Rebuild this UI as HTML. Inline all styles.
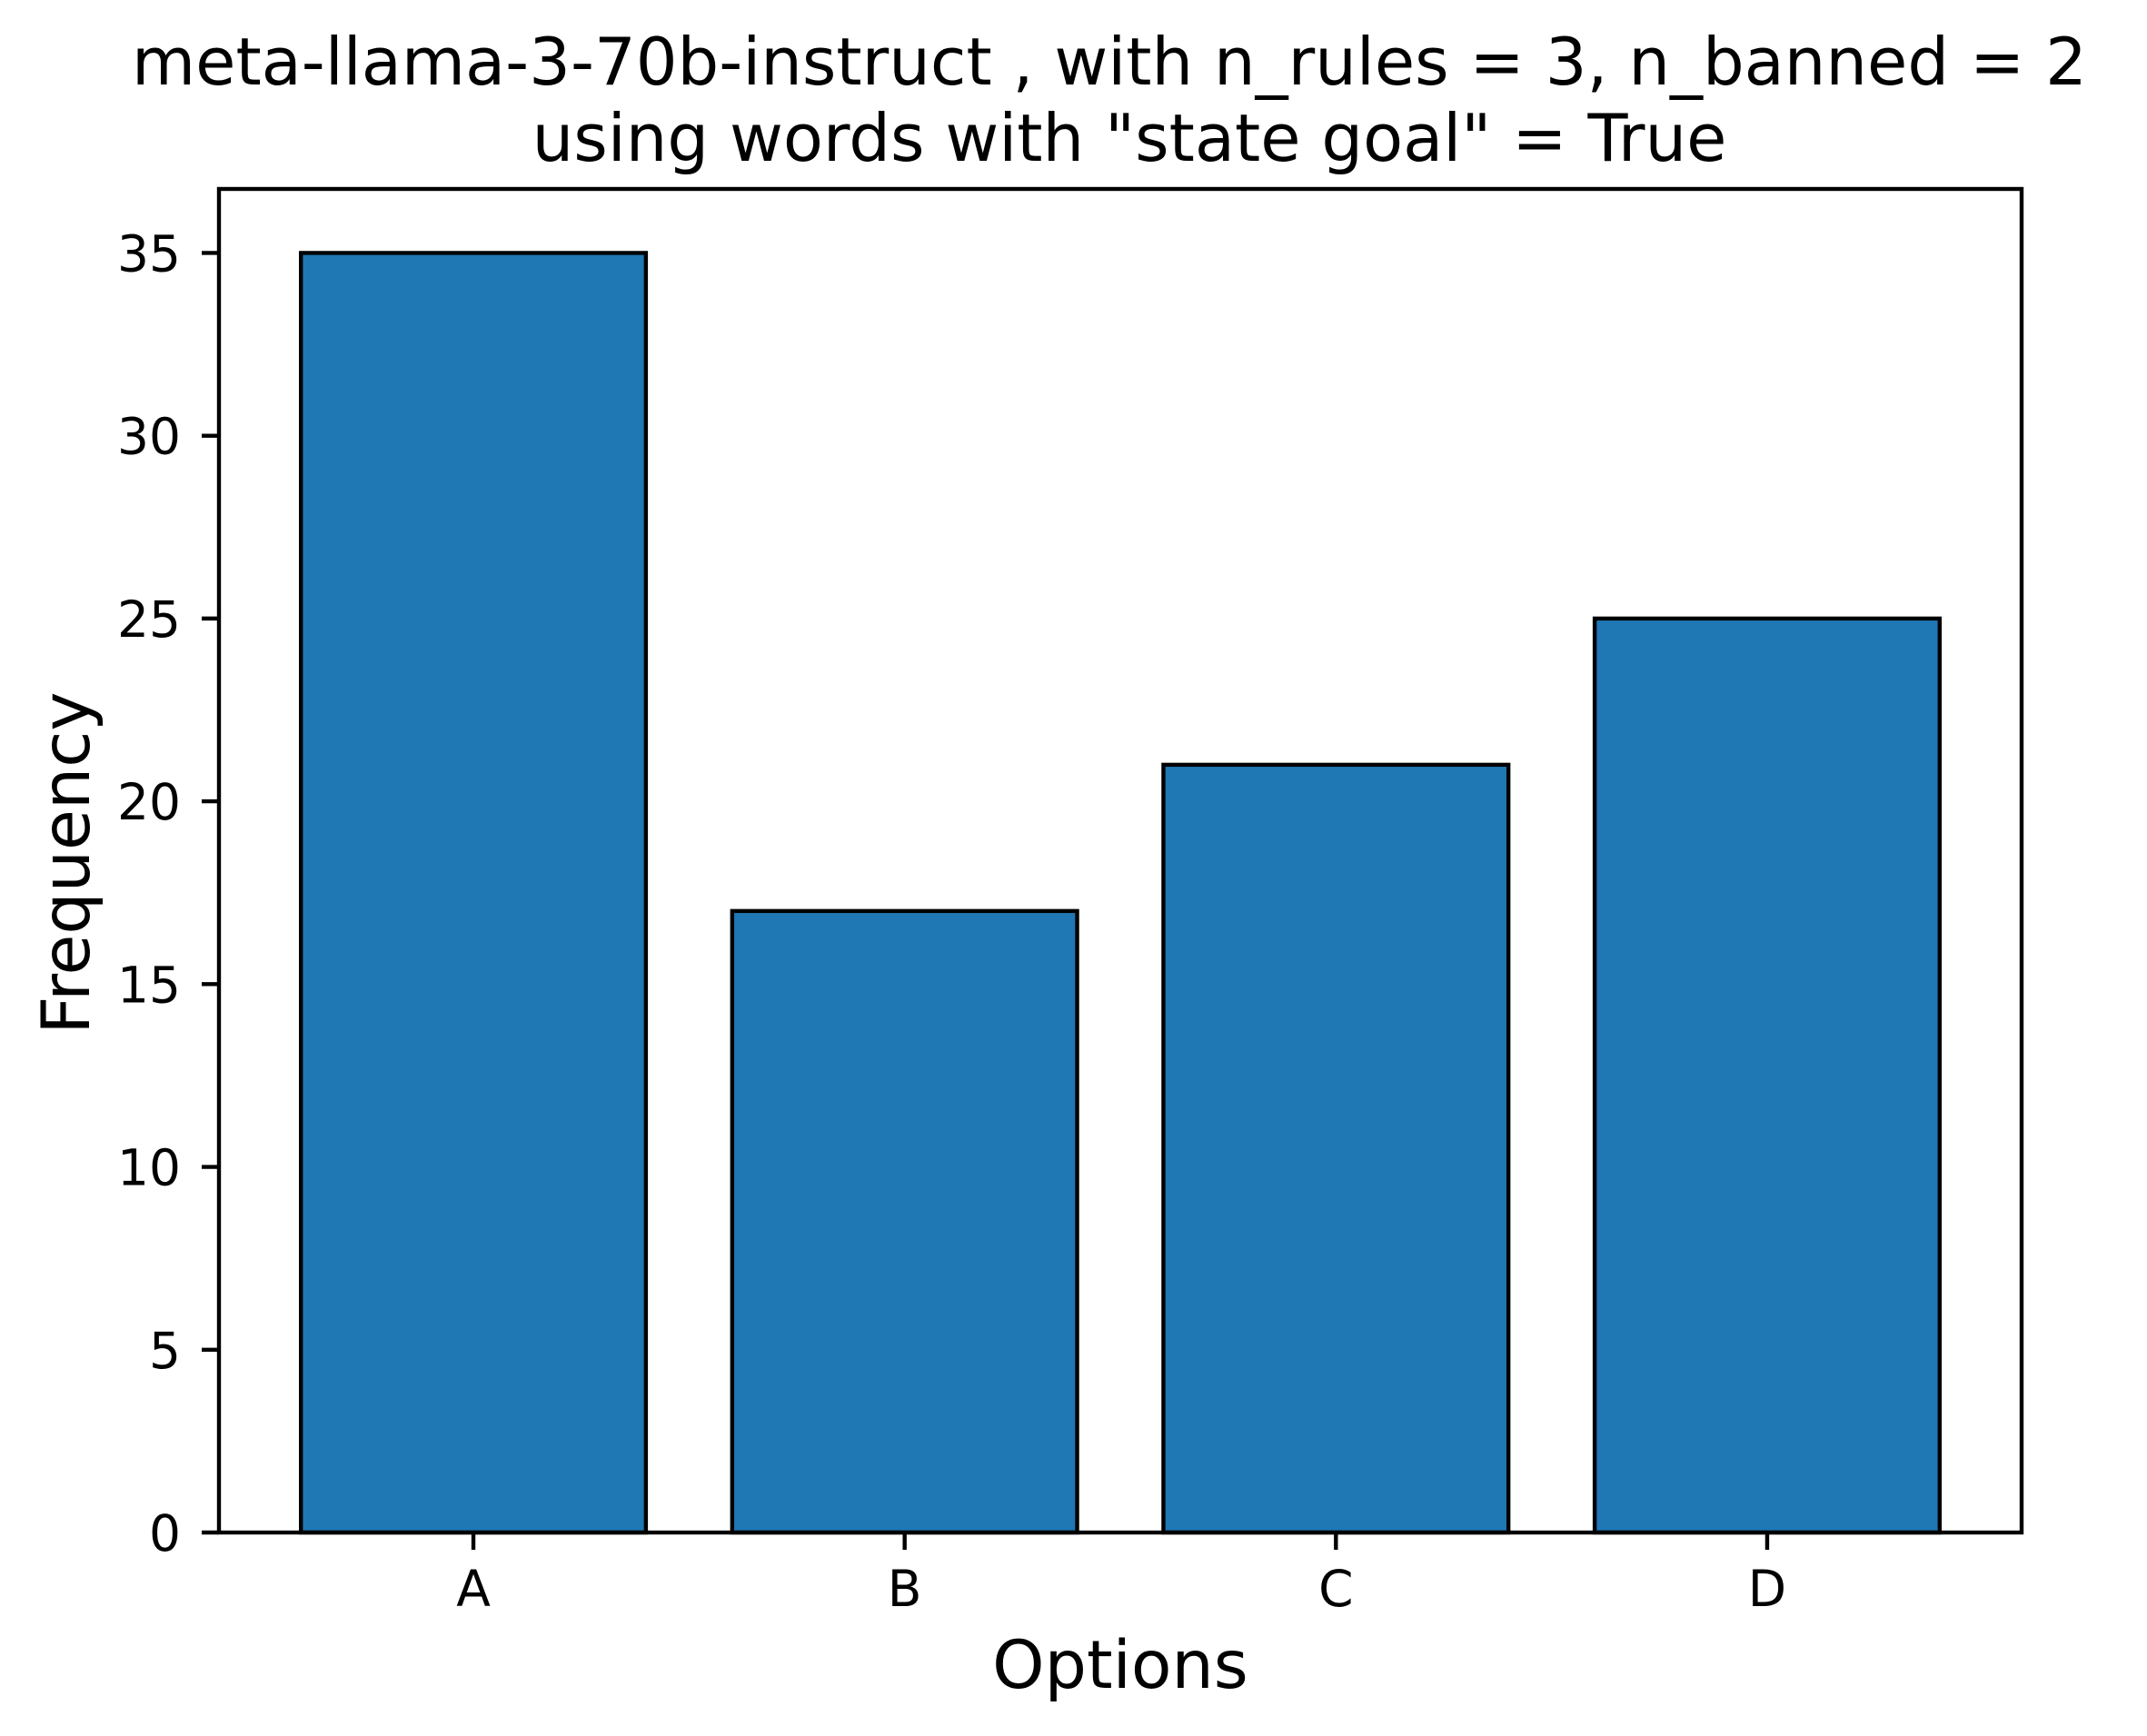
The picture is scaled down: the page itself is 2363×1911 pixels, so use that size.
<!DOCTYPE html>
<html><head><meta charset="utf-8"><style>
html,body{margin:0;padding:0;background:#fff;}
svg{display:block;font-family:"DejaVu Sans","Liberation Sans",sans-serif;}
</style></head><body>
<svg id="chart" width="2363" height="1911" viewBox="0 0 2363 1911" xmlns="http://www.w3.org/2000/svg">
<rect width="2363" height="1911" fill="#fff"/>
<text x="1221" y="93" font-size="72" text-anchor="middle">meta-llama-3-70b-instruct , with n_rules = 3, n_banned = 2</text>
<text x="1243" y="177" font-size="72" text-anchor="middle">using words with "state goal" = True</text>
<g id="bars"></g>
<g id="yticks"></g>
<g id="xticks"></g>
<rect x="241" y="208" width="1984" height="1479" fill="none" stroke="#000" stroke-width="4.4"/>
<text x="1233" y="1858" font-size="73" text-anchor="middle">Options</text>
<text transform="translate(98,950) rotate(-90)" font-size="73" text-anchor="middle">Frequency</text>
</svg>
<script>
const categories = ["A", "B", "C", "D"];
const frequencies = [35, 17, 21, 25];
const yTickValues = [0, 5, 10, 15, 20, 25, 30, 35];

const L = 241, R = 2225, T = 208, B = 1687;
const xMin = -0.59, xMax = 3.59;
const yMax = Math.max(...frequencies) * 1.05;
const xs = v => L + (v - xMin) / (xMax - xMin) * (R - L);
const ys = v => B - v / yMax * (B - T);
const NS = "http://www.w3.org/2000/svg";
const bars = document.getElementById('bars');
const yt = document.getElementById('yticks');
const xt = document.getElementById('xticks');

frequencies.forEach((v, i) => {
  const r = document.createElementNS(NS, 'rect');
  
  
  const x0 = xs(i - 0.4), x1 = xs(i + 0.4);
  r.setAttribute('x', x0); r.setAttribute('width', x1 - x0);
  r.setAttribute('y', ys(v)); r.setAttribute('height', B - ys(v));
  r.setAttribute('fill', '#1f77b4'); r.setAttribute('stroke', '#000'); r.setAttribute('stroke-width', '4.4');
  bars.appendChild(r);

  const tk = document.createElementNS(NS, 'line');
  
  
  const cx = xs(i);
  tk.setAttribute('x1', cx); tk.setAttribute('x2', cx);
  tk.setAttribute('y1', B); tk.setAttribute('y2', B + 19);
  tk.setAttribute('stroke', '#000'); tk.setAttribute('stroke-width', '4.4');
  xt.appendChild(tk);
  const t = document.createElementNS(NS, 'text');
  
  
  t.setAttribute('x', cx); t.setAttribute('y', 1768);
  t.setAttribute('font-size', '55'); t.setAttribute('text-anchor', 'middle');
  t.textContent = categories[i];
  xt.appendChild(t);
});

yTickValues.forEach(v => {
  const y = ys(v);
  const tk = document.createElementNS(NS, 'line');
  
  
  tk.setAttribute('x1', L - 19); tk.setAttribute('x2', L);
  tk.setAttribute('y1', y); tk.setAttribute('y2', y);
  tk.setAttribute('stroke', '#000'); tk.setAttribute('stroke-width', '4.4');
  yt.appendChild(tk);
  const t = document.createElementNS(NS, 'text');
  
  
  t.setAttribute('x', 199); t.setAttribute('y', y + 20);
  t.setAttribute('font-size', '55'); t.setAttribute('text-anchor', 'end');
  t.textContent = String(v);
  yt.appendChild(t);
});
</script>
</body></html>
